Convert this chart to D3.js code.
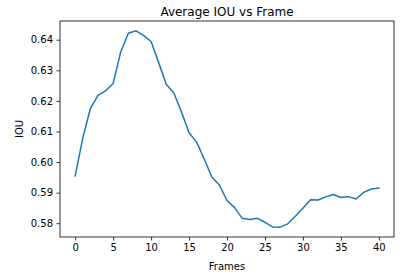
<!DOCTYPE html>
<html>
<head>
<meta charset="utf-8">
<script src="https://cdn.jsdelivr.net/npm/d3@7"></script>
<style>
  body { margin: 0; background: #fff; }
  text { font-family: "DejaVu Sans", sans-serif; fill: #000; }
</style>
</head>
<body>
<div id="chart"></div>
<script>
// frames and mean IOU per frame
var frames = d3.range(0, 41);
var iou = [
  0.5955, 0.6078, 0.6175, 0.6218, 0.6233, 0.6257, 0.6360, 0.6421, 0.6429, 0.6414,
  0.6394, 0.6325, 0.6254, 0.6226, 0.6164, 0.6096, 0.6065, 0.6010, 0.5951, 0.5925,
  0.5874, 0.5851, 0.5816, 0.5812, 0.5816, 0.5803, 0.5788, 0.5787, 0.5798, 0.5823,
  0.5849, 0.5877, 0.5876, 0.5886, 0.5894, 0.5884, 0.5887, 0.5879, 0.5901, 0.5912,
  0.5915
];
var xTicks = [0, 5, 10, 15, 20, 25, 30, 35, 40];
var yTicks = [0.58, 0.59, 0.60, 0.61, 0.62, 0.63, 0.64];

var width = 413, height = 278;
var margin = {top: 21, right: 19, bottom: 41, left: 60};

var svg = d3.select("#chart").append("svg")
  .attr("width", width)
  .attr("height", height);

var w = width - margin.left - margin.right,
    h = height - margin.top - margin.bottom;

var g = svg.append("g")
  .attr("transform", "translate(" + margin.left + "," + margin.top + ")");

// matplotlib style 5% padding
var yMin = d3.min(iou), yMax = d3.max(iou), pad = (yMax - yMin) * 0.05;

var x = d3.scaleLinear().domain([-2, 42]).range([0, w]);
var y = d3.scaleLinear().domain([yMin - pad, yMax + pad]).range([h, 0]);

var xAxis = g.append("g")
  .attr("transform", "translate(0," + h + ")")
  .call(d3.axisBottom(x).tickValues(xTicks).tickSize(3.5).tickPadding(3.5).tickFormat(d3.format("d")));

var yAxis = g.append("g")
  .call(d3.axisLeft(y).tickValues(yTicks).tickSize(3.5).tickPadding(3.5).tickFormat(d3.format(".2f")));

[xAxis, yAxis].forEach(function(a) {
  a.select(".domain").remove();
  a.selectAll("line").attr("stroke", "#000").attr("stroke-width", 0.8);
  a.selectAll("text").attr("font-size", 10).attr("fill", "#000")
    .style("font-family", "'DejaVu Sans', sans-serif");
});

// the line
g.append("path")
  .datum(frames)
  .attr("fill", "none")
  .attr("stroke", "#1f77b4")
  .attr("stroke-width", 1.5)
  .attr("stroke-linejoin", "round")
  .attr("stroke-linecap", "square")
  .attr("d", d3.line()
    .x(function(d) { return x(d); })
    .y(function(d, i) { return y(iou[i]); }));

// frame
g.append("rect")
  .attr("width", w)
  .attr("height", h)
  .attr("fill", "none")
  .attr("stroke", "#000")
  .attr("stroke-width", 0.8);

svg.append("text")
  .attr("x", margin.left + w / 2)
  .attr("y", 16)
  .attr("text-anchor", "middle")
  .attr("font-size", 12)
  .text("Average IOU vs Frame");

svg.append("text")
  .attr("x", margin.left + w / 2)
  .attr("y", 270)
  .attr("text-anchor", "middle")
  .attr("font-size", 10)
  .text("Frames");

svg.append("text")
  .attr("transform", "translate(23," + (margin.top + h / 2) + ") rotate(-90)")
  .attr("text-anchor", "middle")
  .attr("font-size", 10)
  .text("IOU");
</script>
</body>
</html>
